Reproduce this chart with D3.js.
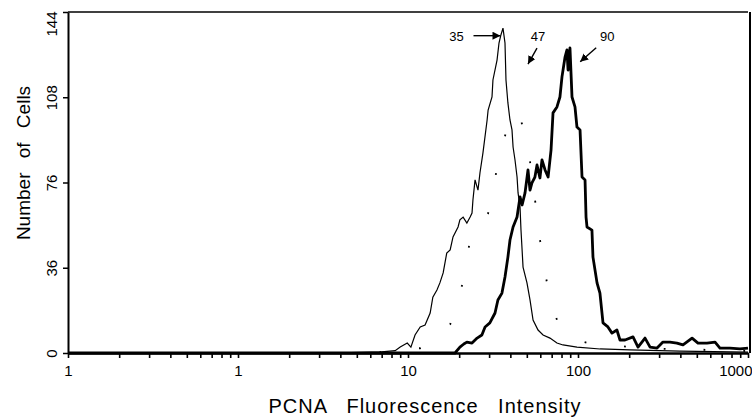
<!DOCTYPE html>
<html>
<head>
<meta charset="utf-8">
<script src="https://cdn.jsdelivr.net/npm/d3@7"></script>
<style>
  body { margin: 0; background: #fff; }
  svg { display: block; font-family: "Liberation Sans", Arial, sans-serif; }
</style>
</head>
<body>
<div id="chart"></div>
<script>
// histogram readings: [intensity, number of cells]
const controlHist = [[0.1,0],[3.5,0],[7,0.5],[8.4,1],[9,2.5],[9.9,4.2],[10.4,2.5],[11,7.6],[11.8,11],[12.6,11.8],
  [13.5,16.9],[14,23.6],[14.8,26.6],[15.4,29.6],[16.1,33.8],[16.9,42.2],[17.7,43.5],[18.4,49],[19.7,53.2],[20.2,56.2],
  [21.1,57.4],[22.2,54.9],[23.2,57.4],[23.8,59.1],[24.1,64.6],[24.8,73.1],[25.8,68.8],[26.5,76],[27.6,84.5],[29.2,98.4],
  [29.6,102.6],[31.2,108.1],[31.6,115.3],[33.4,123.7],[34.3,130.9],[35.2,134.3],[36.2,137.2],[37.2,130.9],[37.7,115.3],[38.7,105.6],
  [39.8,98.4],[40.9,94.2],[41.5,87],[42.6,81.5],[43.8,74.3],[44.4,67.6],[45.6,61.7],[46.2,51.9],[46.9,43.5],[47.5,36.3],
  [50.1,29.6],[52.2,22.4],[54.4,13.9],[58.2,9.7],[62.3,7.6],[68.4,6.3],[75.2,4.2],[81.6,3.4],[98.6,2.5],[135,1.7],
  [202,1.3],[398,0.8],[1000,0.4]];

const midHist = [[6.8,0.4],[9,1],[10.3,2],[11.8,2],[13.5,4],[15.4,7],[17.7,12],[19.4,22],[21.1,30],[22.2,38],
  [23.2,49],[24.8,52],[26.5,54],[29.6,59],[31.6,69],[33.8,80],[36.2,88],[38.2,95],[40.9,99],[43.8,102],
  [46.2,98],[48.8,93],[52.2,81],[55.8,65],[59.7,48],[64,34],[68.4,23],[75.2,14],[83.9,8],[96,5.5],
  [117.8,4],[144,3],[176.6,3],[232,2],[347.5,1.7],[597,1.3],[1000,0.8]];

const highHist = [[0.1,0],[18.9,0],[20.2,2.5],[21.3,3.8],[22.2,4.6],[23.8,4.2],[25.5,6.3],[27.2,7.6],[28.4,11],[30.3,12.7],
  [32.5,16.9],[33.8,22.4],[35.7,25.3],[37.2,32.1],[38.7,40.5],[39.8,47.7],[41.5,53.2],[43.8,57.4],[45.6,65.9],[46.9,62.5],
  [48.8,67.6],[50.8,77.3],[52.2,68.8],[53.6,71.8],[55.8,74.3],[57.4,79.4],[59.7,73.9],[61.4,81.5],[64,77.3],[66.7,74.3],
  [69.4,85.7],[71.3,101.4],[75.2,103.9],[78.3,108.1],[80.5,116.6],[83.9,125],[86.1,128],[87.4,119.5],[89.7,128.8],[92.2,108.1],
  [96,103.9],[98.6,95.4],[102.8,94.2],[105.6,74.3],[110,73.1],[111.5,57.4],[113,53.2],[120.8,51.9],[122.5,40.5],[129.4,29.6],
  [134.6,25.3],[140.3,12.7],[150,11],[158.5,8.4],[169.4,9.7],[176.6,5.5],[189,5.5],[210.7,6.8],[225.5,2.5],[247.9,6.3],
  [265.4,2.5],[291.7,2.1],[316,4.6],[347.5,4.6],[381.9,4.2],[414.6,3.4],[468.8,6.3],[508,4.2],[574,4.2],[640,4.6],
  [684,2.1],[783,2.1],[897,1.7],[1000,2.1]];

const xMajor = [0.1, 1, 10, 100, 1000];
const xLabels = ['1', '1', '10', '100', '1000'];
const yTicks = [0, 36, 72, 108, 144];
const yLabels = ['0', '36', '76', '108', '144'];

const peakNames = ['35', '47', '90'];
const peakTipX = [35, 50.8, 103];
const peakTipY = [134, 122, 123];

const width = 752, height = 420;
const margin = {top: 12, right: 4, bottom: 67, left: 68};

const svg = d3.select('#chart').append('svg')
    .attr('width', width)
    .attr('height', height);

const x = d3.scaleLog()
    .domain([0.1, 1000])
    .range([margin.left, width - margin.right]);

const y = d3.scaleLinear()
    .domain([0, 144])
    .range([height - margin.bottom, margin.top]);

svg.append('defs').append('marker')
    .attr('id', 'head')
    .attr('viewBox', '0 0 10 10')
    .attr('refX', 10).attr('refY', 5)
    .attr('markerWidth', 8).attr('markerHeight', 8)
    .attr('markerUnits', 'userSpaceOnUse')
    .attr('orient', 'auto')
    .append('path')
    .attr('d', 'M0,0 L10,5 L0,10 Z')
    .attr('fill', '#000');

// frame top and right
svg.append('line')
    .attr('x1', x(0.1)).attr('x2', x(1000))
    .attr('y1', y(144)).attr('y2', y(144))
    .attr('stroke', '#000').attr('stroke-width', 1.6);
svg.append('line')
    .attr('x1', x(1000) + 2).attr('x2', x(1000) + 2)
    .attr('y1', y(144)).attr('y2', y(0))
    .attr('stroke', '#000').attr('stroke-width', 2);

// x axis
let xAxis = svg.append('g')
    .attr('transform', `translate(0, ${y(0)})`)
    .call(d3.axisBottom(x)
        .tickValues(x.ticks())
        .tickSize(5)
        .tickSizeOuter(0)
        .tickFormat(d => {
            let i = xMajor.findIndex(m => Math.abs(m - d) < 1e-9);
            return i >= 0 ? xLabels[i] : '';
        }));
xAxis.select('.domain').attr('stroke-width', 2.5);
xAxis.selectAll('.tick line').attr('stroke-width', 1.6);
xAxis.selectAll('.tick text')
    .attr('y', 12)
    .style('font-size', '15px')
    .style('font-family', '"Liberation Sans", Arial, sans-serif');
xAxis.selectAll('.tick text').filter(d => d === 1000)
    .attr('text-anchor', 'end')
    .attr('x', 4);

// y axis
let yAxis = svg.append('g')
    .attr('transform', `translate(${x(0.1)}, 0)`)
    .call(d3.axisLeft(y)
        .tickValues(yTicks)
        .tickSize(5)
        .tickSizeOuter(0)
        .tickFormat((d, i) => yLabels[i]));
yAxis.select('.domain').attr('stroke-width', 2);
yAxis.selectAll('.tick line').attr('stroke-width', 1.5);
yAxis.selectAll('.tick text')
    .attr('transform', 'rotate(-90)')
    .attr('x', 0)
    .attr('y', -11)
    .attr('dy', 0)
    .attr('text-anchor', d => d === 144 ? 'end' : 'middle')
    .style('font-size', '15px')
    .style('font-family', '"Liberation Sans", Arial, sans-serif');
yAxis.selectAll('.tick text').filter(d => d === 144).attr('x', 1);

// histograms
let line = d3.line()
    .x(d => x(d[0]))
    .y(d => y(d[1]));

svg.append('path')
    .datum(midHist)
    .attr('d', line)
    .attr('fill', 'none')
    .attr('stroke', '#000')
    .attr('stroke-width', 1.8)
    .attr('stroke-dasharray', '1.8,38');

svg.append('path')
    .datum(controlHist)
    .attr('d', line)
    .attr('fill', 'none')
    .attr('stroke', '#000')
    .attr('stroke-width', 1.2);

svg.append('path')
    .datum(highHist)
    .attr('d', line)
    .attr('fill', 'none')
    .attr('stroke', '#000')
    .attr('stroke-width', 2.8)
    .attr('stroke-linejoin', 'round');

// peak labels with arrows
let tailDx = [-27, 9, 16];
let tailDy = [0, -16, -14];
let textDx = [-44, 10, 27];
let textDy = [5, -23, -21];

peakNames.forEach((name, i) => {
    let tx = x(peakTipX[i]), ty = y(peakTipY[i]);
    svg.append('line')
        .attr('x1', tx + tailDx[i]).attr('y1', ty + tailDy[i])
        .attr('x2', tx).attr('y2', ty)
        .attr('stroke', '#000').attr('stroke-width', 1.4)
        .attr('marker-end', 'url(#head)');
    svg.append('text')
        .attr('x', tx + textDx[i])
        .attr('y', ty + textDy[i])
        .attr('text-anchor', 'middle')
        .style('font-size', '13px')
        .text(name);
});

// axis titles
svg.append('text')
    .attr('transform', `translate(30, 163) rotate(-90)`)
    .attr('text-anchor', 'middle')
    .style('font-size', '19px')
    .style('word-spacing', '9px')
    .text('Number of Cells');

svg.append('text')
    .attr('x', 425)
    .attr('y', 413)
    .attr('text-anchor', 'middle')
    .style('font-size', '20px')
    .style('letter-spacing', '1px')
    .style('word-spacing', '13px')
    .text('PCNA Fluorescence Intensity');
</script>
</body>
</html>
